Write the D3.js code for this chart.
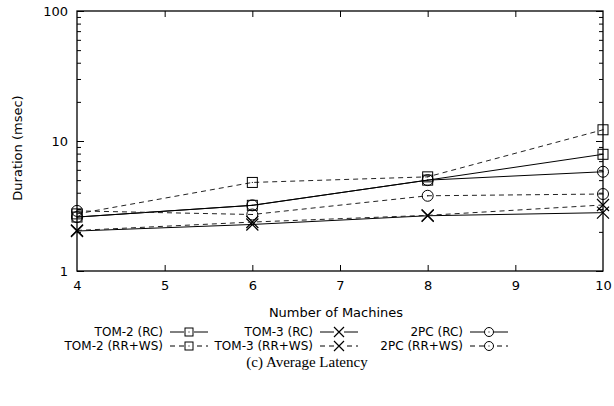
<!DOCTYPE html>
<html>
<head>
<meta charset="utf-8">
<script src="https://cdn.jsdelivr.net/npm/d3@7"></script>
<style>
  body { margin: 0; background: #fff; }
  text { font-family: "DejaVu Sans", sans-serif; font-size: 13px; fill: #000; }
  .legend text { font-size: 12px; }
  .caption { font-family: "Liberation Serif", "Times New Roman", serif; font-size: 15px; }
  .domain { display: none; }
</style>
</head>
<body>
<div id="chart"></div>
<script>
// chart size
var svgWidth = 614;
var svgHeight = 406;

// plot box
var margin = { top: 11, right: 11, bottom: 135, left: 77 };
var chartWidth = svgWidth - margin.left - margin.right;
var chartHeight = svgHeight - margin.top - margin.bottom;

// data
var machines = [4, 6, 8, 10];
var tom2RC = [2.6, 3.2, 5.0, 7.9];
var tom2RRWS = [2.75, 4.8, 5.3, 12.2];
var tom3RC = [2.03, 2.28, 2.66, 2.81];
var tom3RRWS = [2.05, 2.38, 2.68, 3.22];
var pc2RC = [2.6, 3.2, 5.0, 5.8];
var pc2RRWS = [2.9, 2.72, 3.79, 3.91];

var xTicks = [4, 5, 6, 7, 8, 9, 10];
var yTicks = [1, 10, 100];
var yMinor = [2, 3, 4, 5, 6, 7, 8, 9, 20, 30, 40, 50, 60, 70, 80, 90];

var series = [
  { name: "TOM-2 (RC)", values: tom2RC, mark: "square", dashed: false },
  { name: "TOM-2 (RR+WS)", values: tom2RRWS, mark: "square", dashed: true },
  { name: "TOM-3 (RC)", values: tom3RC, mark: "cross", dashed: false },
  { name: "TOM-3 (RR+WS)", values: tom3RRWS, mark: "cross", dashed: true },
  { name: "2PC (RC)", values: pc2RC, mark: "circle", dashed: false },
  { name: "2PC (RR+WS)", values: pc2RRWS, mark: "circle", dashed: true }
];

var svg = d3.select("#chart")
  .append("svg")
  .attr("width", svgWidth)
  .attr("height", svgHeight);

var chartGroup = svg.append("g")
  .attr("transform", `translate(${margin.left}, ${margin.top})`);

// scales
var xScale = d3.scaleLinear().domain([4, 10]).range([0, chartWidth]);
var yScale = d3.scaleLog().domain([1, 100]).range([chartHeight, 0]);

// x axis: labels + inward ticks, mirrored on top
chartGroup.append("g")
  .attr("transform", `translate(0, ${chartHeight})`)
  .call(d3.axisBottom(xScale).tickValues(xTicks).tickSize(0).tickPadding(10).tickFormat(d3.format("d")))
  .call(g => g.attr("font-size", null).attr("font-family", null));

chartGroup.append("g")
  .attr("transform", `translate(0, ${chartHeight})`)
  .call(d3.axisBottom(xScale).tickValues(xTicks.slice(1, -1)).tickSize(-6).tickFormat(""));
chartGroup.append("g")
  .call(d3.axisTop(xScale).tickValues(xTicks.slice(1, -1)).tickSize(-6).tickFormat(""));

// y axis: major + minor ticks, mirrored on right
chartGroup.append("g")
  .call(d3.axisLeft(yScale).tickValues(yTicks).tickSize(-7).tickPadding(9).tickFormat(d3.format("d")))
  .call(g => g.attr("font-size", null).attr("font-family", null));
chartGroup.append("g")
  .call(d3.axisLeft(yScale).tickValues(yMinor).tickSize(-4).tickFormat(""));
chartGroup.append("g")
  .attr("transform", `translate(${chartWidth}, 0)`)
  .call(d3.axisRight(yScale).tickValues(yTicks).tickSize(-7).tickFormat(""));
chartGroup.append("g")
  .attr("transform", `translate(${chartWidth}, 0)`)
  .call(d3.axisRight(yScale).tickValues(yMinor).tickSize(-4).tickFormat(""));

chartGroup.selectAll(".tick line").attr("stroke", "#000");

// frame
chartGroup.append("rect")
  .attr("width", chartWidth)
  .attr("height", chartHeight)
  .attr("fill", "none")
  .attr("stroke", "#000")
  .attr("stroke-width", 1.3);

// axis titles
svg.append("text")
  .attr("x", margin.left + chartWidth / 2 - 4)
  .attr("y", 317)
  .attr("text-anchor", "middle")
  .text("Number of Machines");

svg.append("text")
  .attr("transform", `translate(22, ${margin.top + chartHeight / 2 + 7}) rotate(-90)`)
  .attr("text-anchor", "middle")
  .text("Duration (msec)");

// marker drawing, r = half size
function drawMark(g, type, x, y, r) {
  if (type === "square") {
    g.append("rect").attr("x", x - r).attr("y", y - r).attr("width", 2 * r).attr("height", 2 * r)
      .attr("fill", "none").attr("stroke", "#000");
    g.append("rect").attr("x", x - 0.5).attr("y", y - 0.5).attr("width", 1).attr("height", 1).attr("fill", "#000");
  } else if (type === "circle") {
    g.append("circle").attr("cx", x).attr("cy", y).attr("r", r + 0.5)
      .attr("fill", "none").attr("stroke", "#000");
    g.append("rect").attr("x", x - 0.5).attr("y", y - 0.5).attr("width", 1).attr("height", 1).attr("fill", "#000");
  } else {
    g.append("path").attr("d", `M${x - r - 1},${y - r - 1}L${x + r + 1},${y + r + 1}M${x - r - 1},${y + r + 1}L${x + r + 1},${y - r - 1}`)
      .attr("stroke", "#000").attr("stroke-width", 1.2);
  }
}

var line = d3.line()
  .x((d, i) => xScale(machines[i]))
  .y(d => yScale(d));

series.forEach(function(s) {
  chartGroup.append("path")
    .datum(s.values)
    .attr("d", line)
    .attr("fill", "none")
    .attr("stroke", s.dashed ? "#222" : "#000")
    .attr("stroke-width", 1)
    .attr("stroke-dasharray", s.dashed ? "5,4" : null);
  var mg = chartGroup.append("g");
  s.values.forEach(function(v, i) {
    drawMark(mg, s.mark, xScale(machines[i]), yScale(v), 5);
  });
});

// legend (3 columns, 2 rows)
var legendCols = [163, 313, 463];
var legendRows = [332, 346];
var legend = svg.append("g").attr("class", "legend");
series.forEach(function(s, i) {
  var col = Math.floor(i / 2);
  var row = i % 2;
  var tx = legendCols[col];
  var ty = legendRows[row];
  var lg = legend.append("g");
  lg.append("text")
    .attr("x", tx)
    .attr("y", ty)
    .attr("dy", "0.35em")
    .attr("text-anchor", "end")
    .text(s.name);
  lg.append("line")
    .attr("x1", tx + 7).attr("x2", tx + 45)
    .attr("y1", ty).attr("y2", ty)
    .attr("stroke", "#000")
    .attr("stroke-dasharray", s.dashed ? "5,4" : null);
  // blank the line under the marker, then draw it smaller
  lg.append("rect").attr("x", tx + 21).attr("y", ty - 5).attr("width", 10).attr("height", 10).attr("fill", "#fff");
  drawMark(lg, s.mark, tx + 26, ty, 4);
});

// caption
svg.append("text")
  .attr("class", "caption")
  .attr("x", 307)
  .attr("y", 367)
  .attr("text-anchor", "middle")
  .text("(c) Average Latency");
</script>
</body>
</html>
